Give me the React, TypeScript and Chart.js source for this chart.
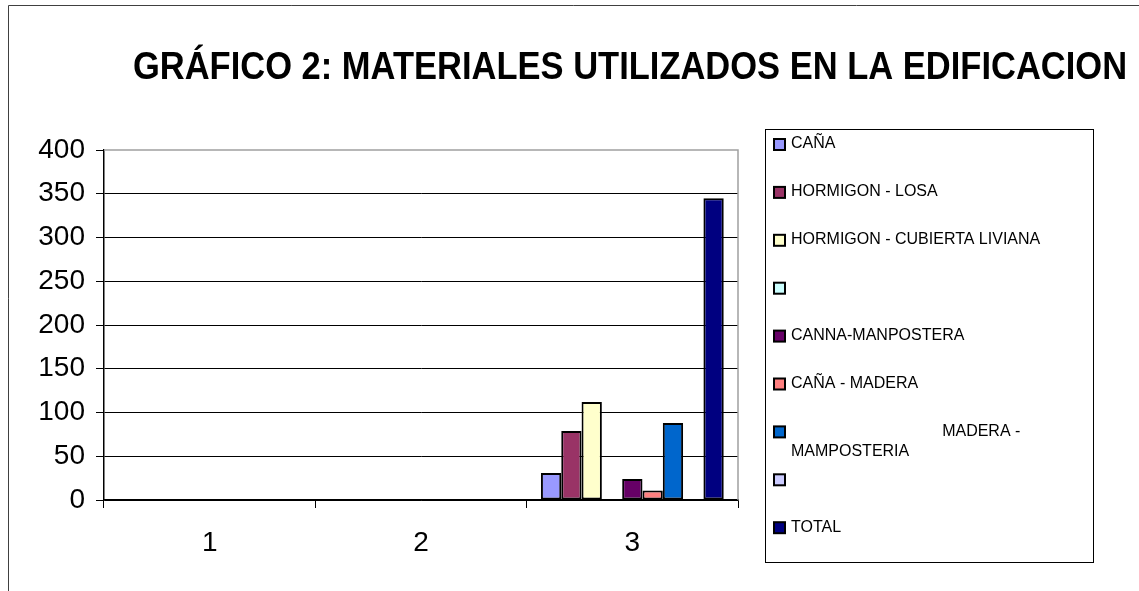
import React, { useEffect, useRef } from "react";
import { Chart, registerables } from "chart.js";

Chart.register(...registerables);

const chartTitle = "GRÁFICO 2: MATERIALES UTILIZADOS EN LA EDIFICACION";
const categories = ["1", "2", "3"];
const seriesLabels = [
  "CAÑA",
  "HORMIGON - LOSA",
  "HORMIGON - CUBIERTA LIVIANA",
  "",
  "CANNA-MANPOSTERA",
  "CAÑA - MADERA",
  "                                  MADERA - MAMPOSTERIA",
  "",
  "TOTAL",
];
const canaValues = [0, 0, 31];
const losaValues = [0, 0, 79];
const cubiertaValues = [0, 0, 112];
const blank1Values = [0, 0, 0];
const cannaMampValues = [0, 0, 24];
const canaMaderaValues = [0, 0, 11];
const maderaMampValues = [0, 0, 88];
const blank2Values = [0, 0, 0];
const totalValues = [0, 0, 345];
const seriesValues = [
  canaValues,
  losaValues,
  cubiertaValues,
  blank1Values,
  cannaMampValues,
  canaMaderaValues,
  maderaMampValues,
  blank2Values,
  totalValues,
];
const seriesColors = [
  "#9999FF",
  "#993366",
  "#FFFFCC",
  "#CCFFFF",
  "#660066",
  "#FF8080",
  "#0066CC",
  "#CCCCFF",
  "#000080",
];
const yTicks = [0, 50, 100, 150, 200, 250, 300, 350, 400];

const FONT = "'Liberation Sans', Arial, sans-serif";

const decorPlugin = {
  id: "decor",
  beforeDraw(chart: any) {
    const ctx = chart.ctx;
    ctx.save();
    ctx.fillStyle = "#ffffff";
    ctx.fillRect(0, 0, chart.width, chart.height);
    ctx.strokeStyle = "#404040";
    ctx.lineWidth = 1;
    ctx.beginPath();
    ctx.moveTo(8.5, chart.height);
    ctx.lineTo(8.5, 5.5);
    ctx.lineTo(chart.width, 5.5);
    ctx.stroke();
    ctx.restore();
  },
  afterDatasetsDraw(chart: any) {
    const ctx = chart.ctx;
    const a = chart.chartArea;
    ctx.save();
    ctx.strokeStyle = "#a0a0a0";
    ctx.lineWidth = 1.5;
    ctx.beginPath();
    ctx.moveTo(a.left, a.top);
    ctx.lineTo(a.right, a.top);
    ctx.lineTo(a.right, a.bottom);
    ctx.stroke();
    ctx.restore();
  },
  afterDraw(chart: any) {
    const ctx = chart.ctx;
    ctx.save();
    // title
    ctx.fillStyle = "#000";
    ctx.font = `bold 34.5px ${FONT}`;
    ctx.textAlign = "center";
    ctx.textBaseline = "middle";
    ctx.save();
    ctx.translate(630, 68);
    ctx.scale(1, 1.15);
    ctx.fillText(chartTitle, 0, 0);
    ctx.restore();

    // legend
    const lx = 765, ly = 129, lw = 328, lh = 433;
    ctx.strokeStyle = "#000";
    ctx.lineWidth = 1;
    ctx.strokeRect(lx + 0.5, ly + 0.5, lw, lh);
    ctx.font = `16px ${FONT}`;
    ctx.textAlign = "left";
    ctx.textBaseline = "middle";
    const textX = 791;
    const maxW = 292;
    chart.data.datasets.forEach((ds: any, i: number) => {
      const cy = 144 + i * 47.9;
      ctx.fillStyle = ds.backgroundColor;
      ctx.fillRect(774, cy - 5, 11, 11);
      ctx.strokeStyle = "#000";
      ctx.lineWidth = 2;
      ctx.strokeRect(774, cy - 5, 11, 11);
      const label: string = ds.label;
      const m = label.match(/^(\s*)(.*)$/) as RegExpMatchArray;
      const words = m[2].split(" ").filter((w) => w.length);
      const lines: string[] = [];
      let cur = m[1];
      words.forEach((w) => {
        const blank = /^\s*$/.test(cur);
        const test = blank ? cur + w : cur + " " + w;
        if (ctx.measureText(test).width > maxW && !blank) {
          lines.push(cur);
          cur = w;
        } else {
          cur = test;
        }
      });
      if (cur.trim().length) lines.push(cur);
      ctx.fillStyle = "#000";
      lines.forEach((ln, k) => {
        ctx.fillText(ln, textX, cy + k * 20);
      });
    });
    ctx.restore();
  },
};

export default function App() {
  const ref = useRef<HTMLCanvasElement | null>(null);
  useEffect(() => {
    if (!ref.current) return;
    const chart = new Chart(ref.current, {
      type: "bar",
      data: {
        labels: categories,
        datasets: seriesLabels.map((label, i) => ({
          label,
          data: seriesValues[i],
          backgroundColor: seriesColors[i],
          borderColor: "#000000",
          borderWidth: 2,
          borderSkipped: false,
          categoryPercentage: 0.865,
          barPercentage: 1,
        })),
      },
      options: {
        animation: false,
        responsive: false,
        maintainAspectRatio: false,
        layout: { padding: { left: 0, top: 150, right: 401, bottom: 0 } },
        plugins: {
          legend: { display: false },
          title: { display: false },
          tooltip: { enabled: false },
        },
        scales: {
          x: {
            afterFit(scale: any) {
              scale.height = 91;
            },
            grid: {
              offset: true,
              drawOnChartArea: false,
              drawTicks: true,
              tickLength: 8,
              color: "#000",
              tickColor: "#000",
            },
            border: { color: "#000", width: 1.5 },
            ticks: {
              color: "#000",
              font: { family: FONT, size: 28 },
              padding: 18,
            },
          },
          y: {
            min: 0,
            max: 400,
            afterFit(scale: any) {
              scale.width = 104;
            },
            afterBuildTicks(scale: any) {
              scale.ticks = yTicks.map((v) => ({ value: v }));
            },
            grid: {
              drawTicks: true,
              tickLength: 8,
              color: (c: any) => (c.tick && c.tick.value === 400 ? "rgba(0,0,0,0)" : "#000"),
              tickColor: "#000",
              lineWidth: 1,
            },
            border: { color: "#000", width: 1.5 },
            ticks: {
              color: "#000",
              font: { family: FONT, size: 28 },
              padding: 11,
            },
          },
        },
      },
      plugins: [decorPlugin],
    });
    return () => chart.destroy();
  }, []);
  return (
    <div style={{ position: "fixed", left: 0, top: 0, width: 1139, height: 591, background: "#fff" }}>
      <canvas ref={ref} width={1139} height={591} style={{ width: 1139, height: 591, display: "block" }} />
    </div>
  );
}
